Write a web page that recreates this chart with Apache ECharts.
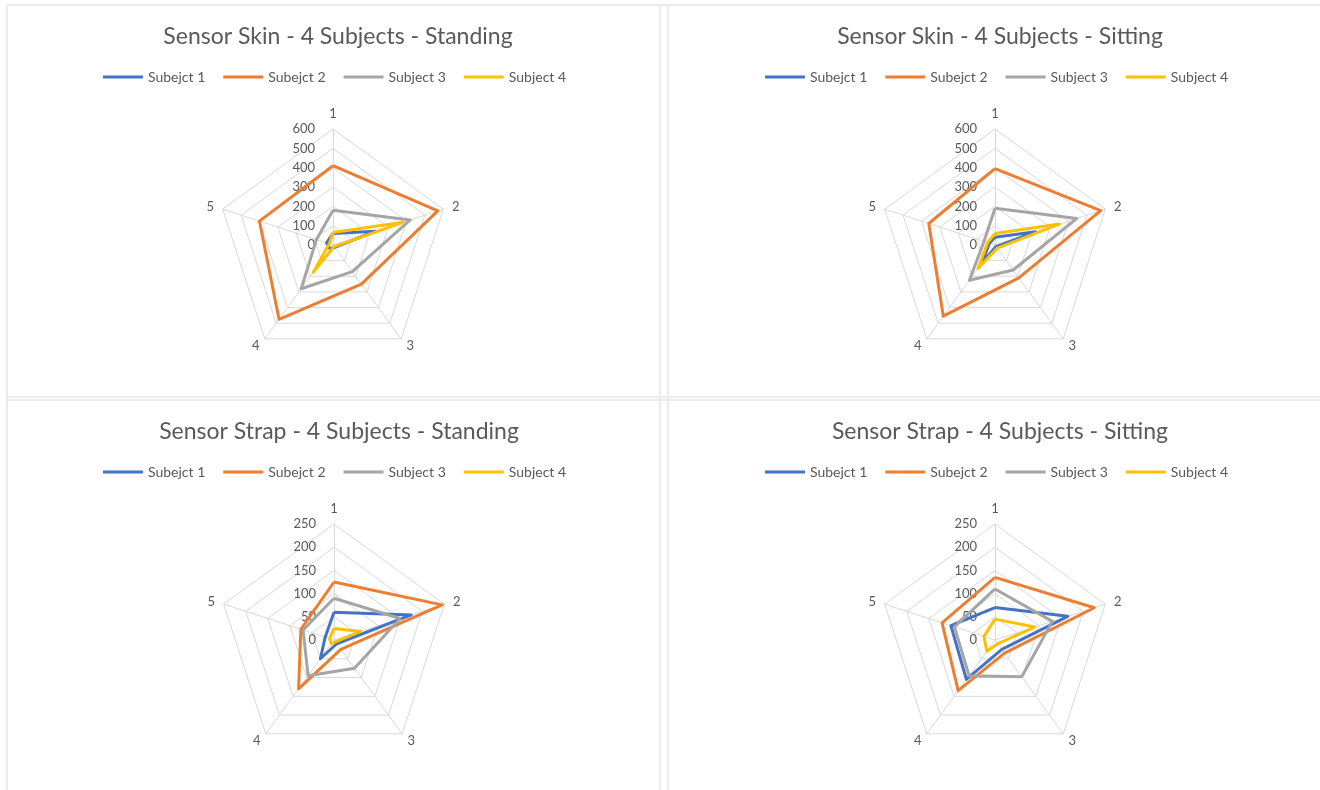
<!DOCTYPE html>
<html>
<head>
<meta charset="utf-8">
<style>
  html, body { margin: 0; padding: 0; background: #ffffff; }
  #chart { width: 1320px; height: 790px; }
</style>
<script src="https://cdn.jsdelivr.net/npm/echarts@6/dist/echarts.min.js"></script>
</head>
<body>
<div id="chart"></div>
<script>
// Radar spokes, in reading order (clockwise from the top)
const spokes = ['1', '2', '3', '4', '5'];
const subjects = ['Subejct 1', 'Subejct 2', 'Subject 3', 'Subject 4'];
const subjectColors = ['#4472C4', '#ED7D31', '#A5A5A5', '#FFC000'];

// Sensor Skin, standing (values per spoke 1..5)
const skinStanding = {
  s1: [60, 230, 15, 25, 35],
  s2: [410, 570, 250, 475, 400],
  s3: [180, 420, 170, 280, 90],
  s4: [65, 380, 10, 175, 20]
};
// Sensor Skin, sitting
const skinSitting = {
  s1: [40, 220, 10, 115, 30],
  s2: [395, 575, 210, 455, 360],
  s3: [190, 445, 160, 225, 60],
  s4: [60, 350, 20, 150, 40]
};
// Sensor Strap, standing
const strapStanding = {
  s1: [60, 175, 10, 50, 20],
  s2: [125, 245, 25, 130, 75],
  s3: [90, 150, 75, 95, 70],
  s4: [25, 60, 5, 10, 10]
};
// Sensor Strap, sitting
const strapSitting = {
  s1: [70, 165, 25, 105, 100],
  s2: [135, 225, 35, 135, 120],
  s3: [110, 130, 98, 95, 92],
  s4: [45, 90, 10, 30, 25]
};

const skinMax = 600, skinSplits = 6;
const strapMax = 250, strapSplits = 5;

const titles = [
  'Sensor Skin - 4 Subjects - Standing',
  'Sensor Skin - 4 Subjects - Sitting',
  'Sensor Strap - 4 Subjects - Standing',
  'Sensor Strap - 4 Subjects - Sitting'
];

const panels = [
  { data: skinStanding, max: skinMax, splits: skinSplits, cx: 333, cy: 245, tx: 333, ty: 20, lx: 103, ly: 70 },
  { data: skinSitting, max: skinMax, splits: skinSplits, cx: 995, cy: 245, tx: 995, ty: 20, lx: 765, ly: 70 },
  { data: strapStanding, max: strapMax, splits: strapSplits, cx: 334, cy: 640, tx: 334, ty: 415, lx: 103, ly: 465 },
  { data: strapSitting, max: strapMax, splits: strapSplits, cx: 995, cy: 640, tx: 995, ty: 415, lx: 765, ly: 465 }
];

// ECharts lays radar spokes counter-clockwise; feed them in this order
// so the spokes read 1..5 clockwise from the top.
const spokeOrder = [0, 4, 3, 2, 1];

const textColor = '#595959';
const gridColor = '#D9D9D9';
const fontFamily = 'Lato, "Open Sans", sans-serif';

const chart = echarts.init(document.getElementById('chart'), null, { renderer: 'canvas' });

const radar = panels.map(p => ({
  center: [p.cx, p.cy],
  radius: 116,
  startAngle: 90,
  shape: 'polygon',
  splitNumber: p.splits,
  indicator: spokeOrder.map((k, i) => {
    const ind = { name: spokes[k], min: 0, max: p.max };
    if (i === 0) ind.axisLabel = { show: true };
    return ind;
  }),
  axisName: { color: textColor, fontSize: 13, fontFamily: fontFamily },
  nameGap: 9,
  axisLine: { lineStyle: { color: gridColor, width: 1 } },
  splitLine: { lineStyle: { color: gridColor, width: 1 } },
  splitArea: { show: false },
  axisTick: { show: false },
  axisLabel: { show: false, color: textColor, fontSize: 13, fontFamily: fontFamily, margin: 18 }
}));

const series = panels.map((p, pi) => ({
  type: 'radar',
  radarIndex: pi,
  symbol: 'none',
  lineStyle: { width: 3 },
  emphasis: { disabled: true },
  data: ['s1', 's2', 's3', 's4'].map((key, si) => ({
    name: subjects[si],
    value: spokeOrder.map(k => p.data[key][k]),
    lineStyle: { color: subjectColors[si], width: 3 },
    itemStyle: { color: subjectColors[si] }
  }))
}));

const title = panels.map((p, i) => ({
  text: titles[i],
  left: p.tx,
  top: p.ty,
  textAlign: 'center',
  textStyle: { color: textColor, fontSize: 23, fontWeight: 'normal', fontFamily: fontFamily }
}));

const legend = panels.map(p => ({
  data: subjects,
  left: p.lx,
  top: p.ly,
  width: 560,
  padding: 0,
  orient: 'horizontal',
  icon: 'rect',
  itemWidth: 40,
  itemHeight: 3,
  itemGap: 18,
  selectedMode: false,
  textStyle: { color: textColor, fontSize: 14, fontFamily: fontFamily }
}));

// Panel frames
const frameStyle = { stroke: '#E6E6E6', fill: null, lineWidth: 1.5 };
const graphic = [
  { type: 'line', shape: { x1: 7, y1: 5, x2: 1320, y2: 5 }, style: frameStyle, silent: true },
  { type: 'line', shape: { x1: 7, y1: 5, x2: 7, y2: 790 }, style: frameStyle, silent: true },
  { type: 'line', shape: { x1: 660, y1: 5, x2: 660, y2: 790 }, style: frameStyle, silent: true },
  { type: 'line', shape: { x1: 668, y1: 5, x2: 668, y2: 790 }, style: frameStyle, silent: true },
  { type: 'line', shape: { x1: 7, y1: 397, x2: 1320, y2: 397 }, style: frameStyle, silent: true },
  { type: 'line', shape: { x1: 7, y1: 400, x2: 1320, y2: 400 }, style: frameStyle, silent: true }
];

chart.setOption({
  backgroundColor: '#ffffff',
  animation: false,
  color: subjectColors,
  title: title,
  legend: legend,
  radar: radar,
  series: series,
  graphic: graphic
});
</script>
</body>
</html>
